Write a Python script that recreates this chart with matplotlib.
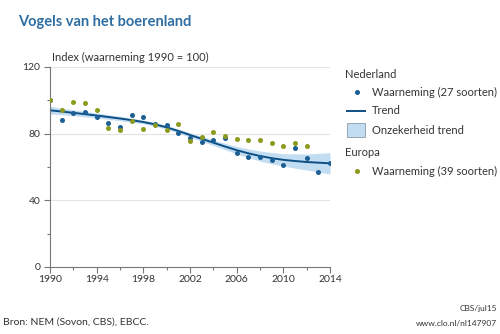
import matplotlib
matplotlib.use("Agg")
import matplotlib.pyplot as plt
from matplotlib.patches import Rectangle
from matplotlib.lines import Line2D
from matplotlib.ticker import MultipleLocator

plt.rcParams['font.family'] = ['Lato', 'DejaVu Sans']

years = list(range(1990, 2015))
nl_obs = [100, 88.2, 92.6, 93.2, 90.2, 86.2, 84.2, 91.2, 90.2, 86.0, 85.4, 80.2,
          77.4, 75.2, 76.2, 77.2, 68.2, 66.2, 66.2, 64.2, 61.2, 71.2, 65.2, 57.2, 62.2]
eu_years = list(range(1990, 2013))
eu_obs = [100, 94.2, 99.0, 98.6, 94.4, 83.2, 82.2, 87.6, 82.8, 85.3, 82.4, 85.7,
          75.7, 77.8, 81.2, 78.6, 76.8, 76.2, 76.2, 74.2, 72.6, 74.6, 72.7]
trend = [94.0, 93.3, 92.5, 91.7, 90.9, 90.0, 89.1, 88.1, 87.0, 85.6, 83.8, 81.6,
         79.2, 76.9, 74.6, 72.3, 70.1, 68.2, 66.6, 65.3, 64.3, 63.6, 63.0, 62.6, 62.2]
trend_lo = [91.8, 91.4, 90.8, 90.1, 89.4, 88.6, 87.8, 86.9, 85.9, 84.5, 82.7, 80.4,
            77.9, 75.4, 72.9, 70.4, 67.8, 65.6, 63.6, 61.9, 60.6, 59.3, 58.2, 57.0, 55.8]
trend_hi = [96.4, 95.3, 94.3, 93.3, 92.4, 91.4, 90.4, 89.3, 88.1, 86.7, 84.9, 82.8,
            80.5, 78.4, 76.3, 74.2, 72.4, 70.8, 69.6, 68.7, 68.0, 67.9, 67.8, 68.2, 68.6]

xticks = [1990, 1994, 1998, 2002, 2006, 2010, 2014]
yticks = [0, 40, 80, 120]

W, H = 500, 334
fig = plt.figure(figsize=(5, 3.34), dpi=100)

txt = '#333333'
blue_dot = '#1c5f94'
blue_line = '#0d4f85'
green = '#8c9a1e'
band = '#c2ddf1'

ax = fig.add_axes([50 / W, 1 - 267 / H, 280 / W, 200 / H])
ax.fill_between(years, trend_lo, trend_hi, color=band, lw=0, zorder=1)
ax.plot(years, trend, color=blue_line, lw=1.4, zorder=2)
ax.scatter(years, nl_obs, s=13, color=blue_dot, lw=0, zorder=3)
ax.scatter(eu_years, eu_obs, s=13, color=green, lw=0, zorder=4)

ax.set_xlim(1990, 2014)
ax.set_ylim(0, 120)
ax.set_xticks(xticks)
ax.set_yticks(yticks)
ax.xaxis.set_minor_locator(MultipleLocator(2))
ax.yaxis.set_minor_locator(MultipleLocator(20))
for y in [40, 80, 120]:
    ax.axhline(y, color='#e3e3e3', lw=0.8, zorder=0)
for s in ['top', 'right']:
    ax.spines[s].set_visible(False)
for s in ['left', 'bottom']:
    ax.spines[s].set_color('#777777')
    ax.spines[s].set_linewidth(0.8)
ax.tick_params(axis='both', which='major', length=4, width=0.8, color='#777777',
               labelsize=7.5, labelcolor=txt, pad=2)
ax.tick_params(axis='both', which='minor', length=2.5, width=0.8, color='#777777')
ax.tick_params(axis='y', pad=3)

fig.text(18 / W, 1 - 22 / H, 'Vogels van het boerenland', fontsize=10.5,
         fontweight='bold', color='#2f6ea3', va='center', ha='left')
fig.text(52 / W, 1 - 57 / H, 'Index (waarneming 1990 = 100)', fontsize=8,
         color=txt, va='center', ha='left')

# legend
lx = 345
fig.text(lx / W, 1 - 74 / H, 'Nederland', fontsize=8, color=txt, va='center')
fig.add_artist(Line2D([357 / W], [1 - 92 / H], marker='o', ms=2.6, color=blue_dot,
                      lw=0, transform=fig.transFigure))
fig.text(372 / W, 1 - 92 / H, 'Waarneming (27 soorten)', fontsize=8, color=txt, va='center')
fig.add_artist(Line2D([347 / W, 365 / W], [1 - 111 / H, 1 - 111 / H], color=blue_line,
                      lw=1.4, transform=fig.transFigure))
fig.text(372 / W, 1 - 111 / H, 'Trend', fontsize=8, color=txt, va='center')
fig.add_artist(Rectangle((347 / W, 1 - 137 / H), 18 / W, 14 / H, facecolor=band,
                         edgecolor='#8a9aa8', lw=0.6, transform=fig.transFigure))
fig.text(372 / W, 1 - 130 / H, 'Onzekerheid trend', fontsize=8, color=txt, va='center')
fig.text(lx / W, 1 - 152 / H, 'Europa', fontsize=8, color=txt, va='center')
fig.add_artist(Line2D([357 / W], [1 - 171 / H], marker='o', ms=2.6, color=green,
                      lw=0, transform=fig.transFigure))
fig.text(372 / W, 1 - 171 / H, 'Waarneming (39 soorten)', fontsize=8, color=txt, va='center')

fig.text(3 / W, 1 - 322 / H, 'Bron: NEM (Sovon, CBS), EBCC.', fontsize=7.5, color=txt,
         va='center', ha='left')
fig.text(497 / W, 1 - 309 / H, 'CBS/jul15', fontsize=6, color=txt, va='center', ha='right')
fig.text(497 / W, 1 - 323 / H, 'www.clo.nl/nl147907', fontsize=6, color=txt,
         va='center', ha='right')

fig.savefig('out.png', dpi=100)
